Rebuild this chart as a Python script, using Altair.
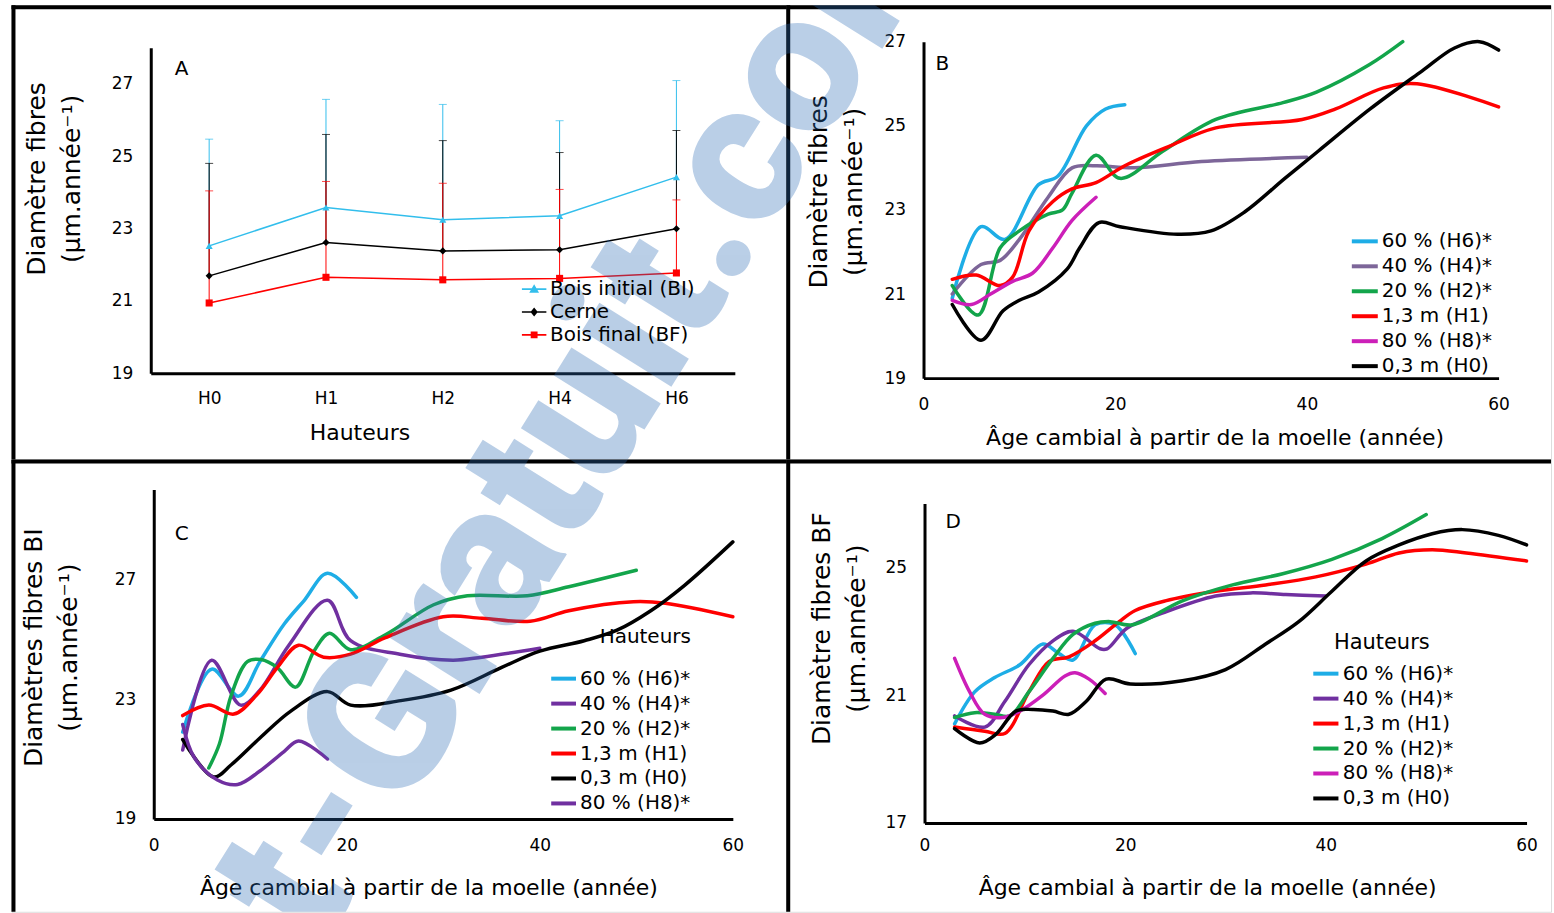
import altair as alt
import pandas as pd

# ---------------- Panel A : moyennes par hauteur (± écart-type) ----------------
hauteurs = ["H0", "H1", "H2", "H4", "H6"]
series_a = ["Bois initial (BI)", "Cerne", "Bois final (BF)"]
bi_moy = [22.52, 23.58, 23.24, 23.35, 24.42]
bi_et = [2.95, 2.99, 3.19, 2.63, 2.67]
cerne_moy = [21.69, 22.61, 22.38, 22.41, 22.99]
cerne_et = [3.11, 2.99, 3.05, 2.69, 2.72]
bf_moy = [20.94, 21.65, 21.58, 21.62, 21.77]
bf_et = [3.10, 2.65, 2.67, 2.46, 2.02]
colors_a = ["#33BEEC", "#000000", "#FF0000"]

# ---------------- noms des hauteurs ----------------
H6 = "60 % (H6)*"
H4 = "40 % (H4)*"
H2 = "20 % (H2)*"
H1 = "1,3 m (H1)"
H8 = "80 % (H8)*"
H0 = "0,3 m (H0)"

# ---------------- Panel B : diamètre des fibres (cerne) ----------------
b_h6_age = [3, 6, 8.5, 12, 14, 17, 19, 21]
b_h6_val = [20.9, 22.6, 22.3, 23.6, 23.8, 25.0, 25.4, 25.5]
b_h4_age = [3, 6, 8, 10, 13, 15.5, 18, 22, 29, 40]
b_h4_val = [21.0, 21.7, 21.8, 22.3, 23.3, 24.0, 24.05, 24.0, 24.15, 24.25]
b_h2_age = [3, 5.7, 8, 10, 13, 14.5, 15.5, 18, 20.5, 25, 30.5, 37.5, 41, 46.5, 50]
b_h2_val = [21.2, 20.5, 22.1, 22.5, 22.9, 23.0, 23.4, 24.3, 23.75, 24.4, 25.15, 25.55, 25.8, 26.45, 27.0]
b_h1_age = [3, 5.5, 8, 9.3, 11, 13.5, 15.5, 18, 21, 25.5, 30.5, 39.5, 43, 48, 51.5, 60]
b_h1_val = [21.35, 21.45, 21.2, 21.4, 22.5, 23.2, 23.5, 23.65, 24.05, 24.5, 24.95, 25.15, 25.4, 25.9, 26.0, 25.45]
b_h8_age = [3, 5, 7, 9.3, 11.4, 13.5, 15.5, 18]
b_h8_val = [20.85, 20.75, 21.0, 21.3, 21.5, 22.1, 22.75, 23.3]
b_h0_age = [3, 6, 8.3, 10, 12, 15, 16.3, 18.3, 20.5, 26.5, 30, 33.5, 37.7, 41.2, 46.6, 52, 55.4, 58, 60]
b_h0_val = [20.75, 19.9, 20.6, 20.85, 21.05, 21.6, 22.1, 22.7, 22.6, 22.42, 22.5, 22.95, 23.75, 24.4, 25.4, 26.3, 26.85, 27.0, 26.8]
order_b = [H6, H4, H2, H1, H8, H0]
colors_b = ["#1EADE6", "#7D6699", "#13A54B", "#FF0000", "#CC1FB8", "#000000"]

# ---------------- Panel C : bois initial ----------------
c_h6_age = [3, 6, 8.8, 11, 13.5, 15.6, 18, 21]
c_h6_val = [21.9, 24.0, 23.1, 24.25, 25.5, 26.3, 27.2, 26.4]
c_h4_age = [3, 6, 9, 11, 14, 18, 20.4, 25.5, 31, 34, 40]
c_h4_val = [21.3, 24.3, 22.8, 23.3, 24.8, 26.3, 24.95, 24.5, 24.3, 24.4, 24.7]
c_h2_age = [5.7, 6.8, 8.0, 9.7, 11.1, 12.8, 14.7, 16.6, 18.2, 20.4, 24, 29, 32.5, 38.7, 43, 50]
c_h2_val = [20.7, 21.5, 23.1, 24.25, 24.32, 24.05, 23.4, 24.6, 25.2, 24.65, 25.15, 26.15, 26.45, 26.45, 26.75, 27.3]
c_h1_age = [3, 5.7, 8.3, 10.7, 12.8, 15, 17.6, 20.4, 24, 30, 34, 39, 43, 49.7, 53, 60]
c_h1_val = [22.45, 22.8, 22.5, 23.15, 24.05, 24.8, 24.4, 24.5, 25.05, 25.75, 25.7, 25.6, 25.95, 26.25, 26.2, 25.75]
c_h0_age = [3, 6.2, 8, 11, 14.2, 18, 20.4, 25.6, 30.8, 36, 40, 44.6, 48, 51.5, 55, 60]
c_h0_val = [21.65, 20.4, 20.8, 21.7, 22.6, 23.25, 22.8, 22.95, 23.3, 24.05, 24.6, 24.95, 25.3, 25.95, 26.8, 28.25]
c_h8_age = [3, 4.2, 6.6, 8.7, 11, 13.5, 15, 18]
c_h8_val = [22.15, 21.05, 20.3, 20.15, 20.6, 21.25, 21.6, 21.0]
order_c = [H6, H4, H2, H1, H0, H8]
colors_c = ["#1EADE6", "#7030A0", "#13A54B", "#FF0000", "#000000", "#7030A0"]

# ---------------- Panel D : bois final ----------------
d_h6_age = [3, 5, 7, 9.5, 11.8, 13.4, 14.8, 17, 19, 21]
d_h6_val = [20.1, 21.1, 21.55, 21.95, 22.6, 22.3, 22.1, 23.2, 23.2, 22.3]
d_h4_age = [3, 6, 8, 10.4, 12.8, 14.8, 17.5, 18.2, 20.2, 24, 29, 32.5, 36, 40]
d_h4_val = [20.35, 20.0, 20.8, 21.95, 22.7, 23.0, 22.45, 22.45, 23.1, 23.6, 24.1, 24.2, 24.15, 24.1]
d_h1_age = [3, 6, 8, 10.4, 12.4, 14.4, 17, 19.4, 21, 24, 29, 34, 39, 44, 47.3, 50.6, 54, 60]
d_h1_val = [20.0, 19.87, 19.8, 21.1, 22.05, 22.2, 22.7, 23.3, 23.65, 23.95, 24.25, 24.45, 24.7, 25.1, 25.45, 25.55, 25.45, 25.2]
d_h2_age = [3, 5, 7, 8.5, 10.4, 12.8, 14.8, 17, 18.5, 20.7, 25.7, 30.7, 35.7, 40.6, 45.6, 50]
d_h2_val = [20.3, 20.45, 20.4, 20.35, 21.1, 22.15, 22.9, 23.25, 23.3, 23.2, 23.95, 24.45, 24.8, 25.25, 25.9, 26.65]
d_h8_age = [3, 4.5, 6, 7.8, 9.5, 11.8, 14, 15, 16.4, 18]
d_h8_val = [22.15, 21.1, 20.4, 20.3, 20.5, 21.0, 21.6, 21.7, 21.5, 21.05]
d_h0_age = [3, 5.5, 7.1, 9.1, 10.8, 12.8, 14.4, 16.1, 18.1, 20.5, 25.7, 30, 34, 37.3, 40.6, 44, 47.3, 50.6, 53.6, 57.2, 60]
d_h0_val = [19.95, 19.5, 19.77, 20.5, 20.55, 20.5, 20.4, 20.8, 21.5, 21.35, 21.45, 21.8, 22.6, 23.3, 24.25, 25.2, 25.7, 26.05, 26.18, 26.0, 25.7]
order_d = [H6, H4, H1, H2, H8, H0]
colors_d = ["#1EADE6", "#7030A0", "#FF0000", "#13A54B", "#CC1FB8", "#000000"]

ages_ticks = [0, 20, 40, 60]
x_title = "Âge cambial à partir de la moelle (année)"
unit_line = "(µm.année⁻¹)"
watermark = "t-Gratuit.com"

# ---------------- mise en page ----------------
FONT = "DejaVu Sans"
INK = "black"
W_L, W_R, H_T, H_B = 776, 766, 454.5, 453
ORIGINS = {"A": (10.5, 3.5), "B": (786.5, 3.5), "C": (10.5, 458), "D": (786.5, 458)}
WM_X, WM_Y = 318, 951


def x_axis(offset, title, tx, ty, pad, values=None):
    kw = dict(offset=offset, grid=False, ticks=False, domainColor=INK, domainWidth=3,
              labelFont=FONT, labelFontSize=17, labelColor=INK, labelPadding=pad,
              labelFlush=False, labelOverlap=False, labelAngle=0,
              title=title, titleFont=FONT, titleFontSize=22, titleFontWeight="normal",
              titleColor=INK, titleX=tx, titleY=ty, titleAlign="center",
              titleBaseline="middle", titleAngle=0)
    if values is not None:
        kw["values"] = values
    return alt.Axis(**kw)


def y_axis(values, offset, title, tx, ty):
    return alt.Axis(values=values, offset=offset, grid=False, ticks=False,
                    domainColor=INK, domainWidth=3, labelFont=FONT, labelFontSize=17,
                    labelColor=INK, labelPadding=18, labelOverlap=False,
                    title=title, titleFont=FONT, titleFontSize=25, titleFontWeight="normal",
                    titleColor=INK, titleX=tx, titleY=ty, titleAngle=270,
                    titleAlign="center", titleBaseline="middle", titleLineHeight=35)


def decor(key, w, h, lx, ly):
    ox, oy = ORIGINS[key]
    one = pd.DataFrame({"k": [key]})
    left = alt.Chart(one).mark_rule(color=INK, strokeWidth=4).encode(
        x=alt.value(2), y=alt.value(0), y2=alt.value(h))
    top = alt.Chart(one).mark_rule(color=INK, strokeWidth=4).encode(
        x=alt.value(0), x2=alt.value(w), y=alt.value(2))
    tag = alt.Chart(one).mark_text(font=FONT, fontSize=20, color=INK, align="left",
                                   baseline="middle").encode(
        text="k:N", x=alt.value(lx), y=alt.value(ly))
    wm = alt.Chart(pd.DataFrame({"w": [watermark]})).mark_text(
        font="Roboto", fontWeight=900, fontSize=200, angle=302, align="left",
        baseline="alphabetic", color="#2F6DB5", opacity=0.33, clip=True).encode(
        text="w:N", x=alt.value(WM_X - ox), y=alt.value(WM_Y - oy))
    return [left, top, tag], wm


def curves_frame(items):
    rows = []
    for name, ages, vals in items:
        for a, v in zip(ages, vals):
            rows.append({"serie": name, "age": a, "val": v})
    return pd.DataFrame(rows)


# ---------------- Panel A ----------------
rows_a = []
for serie, moy, et in zip(series_a, [bi_moy, cerne_moy, bf_moy], [bi_et, cerne_et, bf_et]):
    for h, m, e in zip(hauteurs, moy, et):
        rows_a.append({"hauteur": h, "serie": serie, "moy": m, "haut": round(m + e, 2)})
df_a = pd.DataFrame(rows_a)

xa = alt.X("hauteur:N", sort=hauteurs,
           scale=alt.Scale(type="point", domain=hauteurs, range=[139.5, 724.5], padding=0.5),
           axis=x_axis(368.5 - H_T, "Hauteurs", 348.5, 59, 17))
ya_scale = alt.Scale(domain=[19, 28], range=[368.5, 42.5], nice=False, zero=False)
ya_axis = y_axis([19, 21, 23, 25, 27], -139.5, ["Diamètre fibres", unit_line], -114.5, 173.5)
col_a = alt.Color("serie:N", scale=alt.Scale(domain=series_a, range=colors_a), legend=None)

err_a = alt.Chart(df_a).mark_rule(strokeWidth=1).encode(
    x=xa, y=alt.Y("moy:Q", scale=ya_scale, axis=ya_axis), y2="haut:Q", color=col_a)
cap_a = alt.Chart(df_a).mark_tick(thickness=1, size=8, orient="horizontal").encode(
    x=xa, y=alt.Y("haut:Q", scale=ya_scale, axis=ya_axis), color=col_a)
line_a = alt.Chart(df_a).mark_line(strokeWidth=1.5).encode(
    x=xa, y=alt.Y("moy:Q", scale=ya_scale, axis=ya_axis), color=col_a)
pts_a = alt.Chart(df_a).mark_point(filled=True, size=50, opacity=1).encode(
    x=xa, y=alt.Y("moy:Q", scale=ya_scale, axis=ya_axis), color=col_a,
    shape=alt.Shape("serie:N", scale=alt.Scale(domain=series_a,
                                              range=["triangle-up", "diamond", "square"]),
                    legend=None))

# legend keys: a short line with the marker on it
key_paths = [
    "M-1,-0.07H1V0.07H-1Z M-0.4,0.3L0,-0.4L0.4,0.3Z",
    "M-1,-0.07H1V0.07H-1Z M0,-0.36L0.3,0L0,0.36L-0.3,0Z",
    "M-1,-0.07H1V0.07H-1Z M-0.28,-0.28H0.28V0.28H-0.28Z",
]
leg_a = alt.Legend(orient="none", legendX=510.5, legendY=271.25, title=None,
                   symbolSize=600, labelFont=FONT, labelFontSize=20, labelColor=INK,
                   labelOffset=3, rowPadding=0, padding=0)
keys_a = alt.Chart(pd.DataFrame({"serie": series_a})).mark_point(
    filled=True, size=600, opacity=1, clip=True).encode(
    x=alt.value(-80), y=alt.value(-80),
    color=alt.Color("serie:N", scale=alt.Scale(domain=series_a, range=colors_a), legend=leg_a),
    shape=alt.Shape("serie:N", scale=alt.Scale(domain=series_a, range=key_paths), legend=leg_a))

deco_a, wm_a = decor("A", W_L, H_T, 163.5, 64)
panel_a = alt.layer(*deco_a, err_a, cap_a, line_a, pts_a, keys_a, wm_a).resolve_scale(
    color="independent", shape="independent").properties(width=W_L, height=H_T)


# ---------------- Panels B, C, D ----------------
def curve_panel(key, w, h, items, order, colors, xr, yr, ydom, yticks, ytitle,
                ytx, yty, xtx, xty, xpad, legend_kw, letter_xy):
    df = curves_frame(items)
    x = alt.X("age:Q", scale=alt.Scale(domain=[0, 60], range=xr, nice=False, zero=False),
              axis=x_axis(yr[0] - h, x_title, xtx, xty, xpad, ages_ticks))
    y = alt.Y("val:Q", scale=alt.Scale(domain=ydom, range=yr, nice=False, zero=False),
              axis=y_axis(yticks, -xr[0], ytitle, ytx, yty))
    leg = alt.Legend(orient="none", symbolType="stroke", symbolStrokeWidth=4,
                     labelFont=FONT, labelFontSize=20, labelColor=INK, labelOffset=2,
                     rowPadding=0, padding=0, titleFont=FONT, titleFontWeight="normal",
                     titleColor=INK, **legend_kw)
    lines = alt.Chart(df).mark_line(interpolate="catmull-rom", strokeWidth=3.5,
                                    strokeCap="round").encode(
        x=x, y=y,
        color=alt.Color("serie:N", scale=alt.Scale(domain=order, range=colors), legend=leg))
    deco, wm = decor(key, w, h, *letter_xy)
    return alt.layer(*deco, lines, wm).properties(width=w, height=h)


panel_b = curve_panel(
    "B", W_R, H_T,
    [(H6, b_h6_age, b_h6_val), (H4, b_h4_age, b_h4_val), (H2, b_h2_age, b_h2_val),
     (H1, b_h1_age, b_h1_val), (H8, b_h8_age, b_h8_val), (H0, b_h0_age, b_h0_val)],
    order_b, colors_b, [137.5, 713.5], [373.5, 36.5], [19, 27], [19, 21, 23, 25, 27],
    ["Diamètre fibres", unit_line], -105.5, 186.5, 429, 59, 18,
    dict(legendX=564.5, legendY=221.5, title=None, symbolSize=676), (149.5, 59))

panel_c = curve_panel(
    "C", W_L, H_B,
    [(H6, c_h6_age, c_h6_val), (H4, c_h4_age, c_h4_val), (H2, c_h2_age, c_h2_val),
     (H1, c_h1_age, c_h1_val), (H0, c_h0_age, c_h0_val), (H8, c_h8_age, c_h8_val)],
    order_c, colors_c, [142.5, 722.5], [360, 30], [19, 30], [19, 23, 27],
    ["Diamètres fibres BI", unit_line], -120.5, 188, 417.5, 69, 19,
    dict(legendX=538.5, legendY=168, title="Hauteurs", titleFontSize=20,
         titleAnchor="end", titlePadding=17, symbolSize=615), (163.5, 74.5))

panel_d = curve_panel(
    "D", W_R, H_B,
    [(H6, d_h6_age, d_h6_val), (H4, d_h4_age, d_h4_val), (H1, d_h1_age, d_h1_val),
     (H2, d_h2_age, d_h2_val), (H8, d_h8_age, d_h8_val), (H0, d_h0_age, d_h0_val)],
    order_d, colors_d, [138.5, 741.5], [364, 44], [17, 27], [17, 21, 25],
    ["Diamètre fibres BF", unit_line], -103, 169, 421.5, 65, 15,
    dict(legendX=525.5, legendY=172.5, title="Hauteurs", titleFontSize=21,
         titleAnchor="middle", titlePadding=6, symbolSize=635), (159.5, 62.5))

chart = alt.concat(panel_a, panel_b, panel_c, panel_d, columns=2, spacing=0).resolve_scale(
    color="independent", shape="independent").properties(
    bounds="flush",
    padding={"left": 8.5, "top": 1.5, "right": 0, "bottom": 0},
).configure_view(stroke=None).configure(background="white")

chart.save("out.html", embed_options={"renderer": "svg", "actions": False})
